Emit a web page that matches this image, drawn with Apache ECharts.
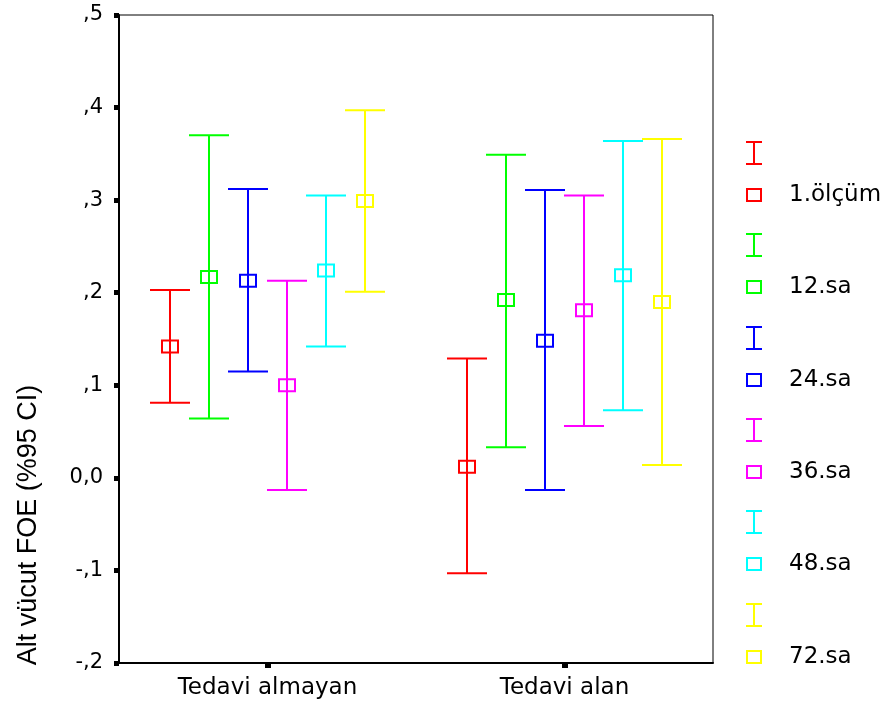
<!DOCTYPE html>
<html><head><meta charset="utf-8">
<script src="https://cdn.jsdelivr.net/npm/echarts@6/dist/echarts.min.js"></script>
<style>html,body{margin:0;padding:0;background:#fff}#c{width:880px;height:701px}</style>
</head><body><div id="c"></div>
<script>
const categories = ['Tedavi almayan', 'Tedavi alan'];
const seriesNames = ['1.ölçüm', '12.sa', '24.sa', '36.sa', '48.sa', '72.sa'];
const seriesColors = ['#ff0000', '#00ff00', '#0000ff', '#ff00ff', '#00ffff', '#ffff00'];
// one entry per series: [Tedavi almayan, Tedavi alan]
const means  = [[0.142, 0.012], [0.217, 0.192], [0.213, 0.148], [0.100, 0.181], [0.224, 0.219], [0.299, 0.190]];
const lowers = [[0.081, -0.103], [0.064, 0.033], [0.115, -0.013], [-0.013, 0.056], [0.142, 0.073], [0.201, 0.014]];
const uppers = [[0.203, 0.129], [0.370, 0.349], [0.312, 0.311], [0.213, 0.305], [0.305, 0.364], [0.397, 0.366]];
const yTickLabels = ['-,2', '-,1', '0,0', ',1', ',2', ',3', ',4', ',5'];
const yMin = -0.2, yMax = 0.5, yStep = 0.1;
const yAxisTitle = 'Alt vücut FOE (%95 CI)';

const chart = echarts.init(document.getElementById('c'), null, {renderer: 'canvas'});

function renderItem(params, api) {
  const cat = api.value(0);
  const lo = api.coord([cat, api.value(1)]);
  const mid = api.coord([cat, api.value(2)]);
  const hi = api.coord([cat, api.value(3)]);
  const band = api.size([1, 0])[0];
  const x = Math.round(mid[0] + (params.seriesIndex - 2.5) * band * 0.1314);
  const color = api.visual('color');
  const half = 20;
  const st = {stroke: color, lineWidth: 2, fill: 'none'};
  return {type: 'group', children: [
    {type: 'line', shape: {x1: x, y1: hi[1], x2: x, y2: lo[1]}, style: st},
    {type: 'line', shape: {x1: x - half, y1: hi[1], x2: x + half, y2: hi[1]}, style: st},
    {type: 'line', shape: {x1: x - half, y1: lo[1], x2: x + half, y2: lo[1]}, style: st},
    {type: 'rect', shape: {x: x - 8, y: mid[1] - 6, width: 16, height: 12}, style: st}
  ]};
}

const series = seriesNames.map((name, i) => ({
  name: name,
  type: 'custom',
  renderItem: renderItem,
  itemStyle: {color: seriesColors[i]},
  encode: {x: 0, y: [1, 2, 3]},
  data: categories.map((c, k) => [k, lowers[i][k], means[i][k], uppers[i][k]])
}));

const graphics = [{
  type: 'text', x: 29, y: 525, rotation: Math.PI / 2,
  style: {text: yAxisTitle, fontFamily: 'Liberation Sans, Arial', fontSize: 27, fill: '#000', align: 'center', verticalAlign: 'middle'}
}];
seriesNames.forEach((name, i) => {
  const cy = Math.round(195 + i * 92.3);
  const c = seriesColors[i];
  const st = {stroke: c, lineWidth: 2, fill: 'none'};
  graphics.push(
    {type: 'line', shape: {x1: 746, y1: cy - 53, x2: 762, y2: cy - 53}, style: st},
    {type: 'line', shape: {x1: 754, y1: cy - 53, x2: 754, y2: cy - 31}, style: st},
    {type: 'line', shape: {x1: 746, y1: cy - 31, x2: 762, y2: cy - 31}, style: st},
    {type: 'rect', shape: {x: 747, y: cy - 6, width: 14, height: 12}, style: st},
    {type: 'text', x: 789, y: cy, style: {text: name, fontFamily: 'DejaVu Sans', fontSize: 23, fill: '#000', verticalAlign: 'middle'}}
  );
});

chart.setOption({
  animation: false,
  backgroundColor: '#fff',
  grid: {left: 119, right: 167, top: 15, bottom: 38, show: true, borderColor: '#000', borderWidth: 1, backgroundColor: 'transparent'},
  xAxis: {
    type: 'category', data: categories,
    axisLine: {show: true, onZero: false, lineStyle: {color: '#000', width: 2}},
    axisTick: {show: true, alignWithLabel: true, length: 5, lineStyle: {color: '#000', width: 6}},
    axisLabel: {fontFamily: 'DejaVu Sans', fontSize: 23, color: '#000', margin: 14},
    splitLine: {show: false}
  },
  yAxis: {
    type: 'value', min: yMin, max: yMax, interval: yStep,
    axisLine: {show: true, lineStyle: {color: '#000', width: 2}},
    axisTick: {show: true, length: 5, lineStyle: {color: '#000', width: 5}},
    axisLabel: {
      fontFamily: 'DejaVu Sans', fontSize: 21, color: '#000', margin: 16,
      formatter: v => yTickLabels[Math.round((v - yMin) / yStep)]
    },
    splitLine: {show: false}
  },
  graphic: graphics,
  series: series
});
</script>
</body></html>
